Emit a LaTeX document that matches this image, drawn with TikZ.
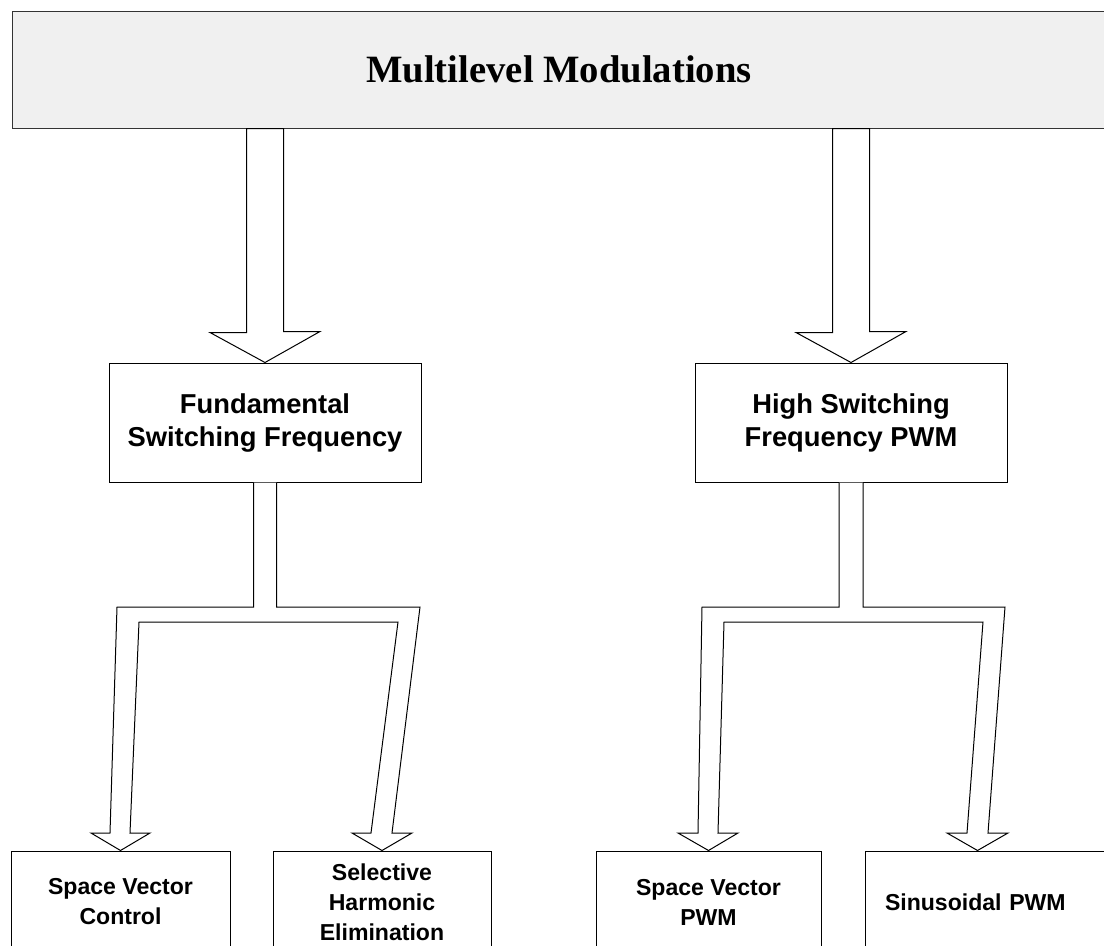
\documentclass[tikz,border=0pt]{standalone}
\usepackage{fontspec}
\setmainfont{Liberation Serif}
\setsansfont{Liberation Sans}
\usetikzlibrary{calc}
\usetikzlibrary{positioning}
\tikzset{
   every path/.style={>=stealth},
   box/.style={draw=black,line width=0.75pt,fill=white,align=center,inner sep=0pt},
   topbox/.style={draw=black!80,line width=0.75pt,fill=gray!12,font=\bfseries\fontsize{29}{34}\selectfont},
   midbox/.style={box,minimum width=234pt,minimum height=89.25pt,font=\sffamily\bfseries\fontsize{20.5}{24.75}\selectfont},
   lowbox/.style={box,minimum height=76.5pt,font=\sffamily\bfseries\fontsize{17.3}{22.5}\selectfont},
   hollow/.style={draw=black,line width=0.75pt,fill=white,line join=miter},
}

\begin{document}
\begin{tikzpicture}[x=0.75pt,y=-0.75pt]

        \useasboundingbox (0,0) rectangle (1104,946);
        \clip (0,0) rectangle (1104,946);

        \node[topbox,minimum width=820.5pt,minimum height=87.75pt] (mm) at (559,69.5) {Multilevel Modulations};

        \node[midbox] (fsf) at (265,422.5) {Fundamental\\Switching Frequency};
        \node[midbox] (hsf) at (851,422.5) {High Switching\\Frequency PWM};

        \node[lowbox,minimum width=164.25pt] (svc) at (120.5,902) {Space Vector\\Control};
        \node[lowbox,minimum width=163.5pt] (she) at (382,902) {Selective\\Harmonic\\Elimination};
        \node[lowbox,minimum width=168.75pt] (svp) at (708.5,902) {Space Vector\\PWM};
        \node[lowbox,minimum width=191.25pt,text width=161.25pt,align=left,inner xsep=15pt] (sin) at (992.5,902) {Sinusoidal PWM};
        \coordinate (sintip) at ($(sin.north west)+(113,0)$);

        \draw[hollow] ($(mm.south -| fsf.north)+(-18.5,0)$) -- ++(0,204) -- ++(-36.5,0) -- (fsf.north)
              -- ++(55,-31) -- ++(-36.5,0) -- ($(mm.south -| fsf.north)+(18.5,0)$) -- cycle;
        \draw[hollow] ($(mm.south -| hsf.north)+(-18.5,0)$) -- ++(0,204) -- ++(-36.5,0) -- (hsf.north)
              -- ++(55,-31) -- ++(-36.5,0) -- ($(mm.south -| hsf.north)+(18.5,0)$) -- cycle;

        \draw[hollow] ($(fsf.south)+(-11.5,0)$) -- (253.5,607) -- (117,607) -- (110,833) -- (91,833) -- (svc.north)
              -- (150,833) -- (130,833) -- (139,622) -- (398,622) -- (371,833) -- (352,833) -- (she.north)
              -- (412,833) -- (392,833) -- (420,607) -- (276.5,607) -- ($(fsf.south)+(11.5,0)$);
        \draw[hollow] ($(hsf.south)+(-12,0)$) -- (839,607) -- (702,607) -- (698,833) -- (678,833) -- (svp.north)
              -- (738,833) -- (718,833) -- (724,622) -- (983,622) -- (967,833) -- (947,833) -- (sintip)
              -- (1008,833) -- (988,833) -- (1005,607) -- (863,607) -- ($(hsf.south)+(12,0)$);

      \end{tikzpicture}
\end{document}
